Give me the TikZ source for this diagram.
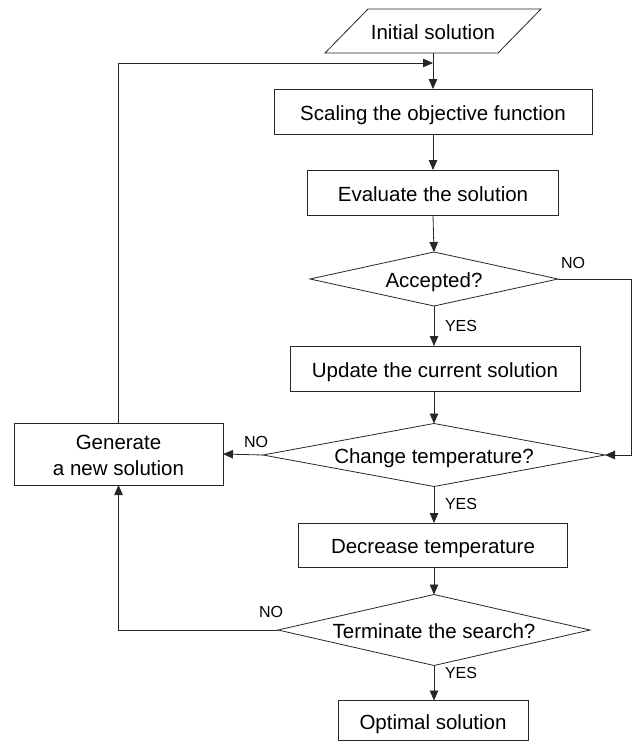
\documentclass[tikz,border=0pt]{standalone}
\usepackage{fontspec}
\setmainfont{Liberation Sans}
\usetikzlibrary{arrows.meta}
\begin{document}
\begin{tikzpicture}[x=1pt,y=-1pt,
  every node/.style={inner sep=0pt, outer sep=0pt},
  txt/.style={font=\fontsize{20.5}{25}\selectfont, align=center},
  oneline/.style={text height=19pt, text depth=2pt},
  box/.style={txt, draw=black!85, line width=0.8pt},
  outline/.style={draw=black!85, line width=0.8pt},
  lbl/.style={font=\fontsize{16}{19}\selectfont},
  conn/.style={draw=black!85, line width=0.8pt},
  arr/.style={conn, -{Triangle[length=10pt,width=8.5pt]}},
]
\useasboundingbox (0,0) rectangle (635,747);

% Initial solution (parallelogram)
\node[txt, oneline, minimum width=173pt, minimum height=44pt] (init) at (433,31) {Initial solution};
\draw[outline] ([xshift=-21.5pt]init.south west) -- ([xshift=-21.5pt]init.south east)
  -- ([xshift=21.5pt]init.north east) -- ([xshift=21.5pt]init.north west) -- cycle;

% Process boxes
\node[box, oneline, minimum width=318pt, minimum height=45pt] (scale) at (433,111.5) {Scaling the objective function};
\node[box, oneline, minimum width=251pt, minimum height=45pt] (eval) at (433,192.5) {Evaluate the solution};
\node[box, oneline, minimum width=290pt, minimum height=45pt] (upd) at (435,368.5) {Update the current solution};
\node[box, minimum width=209pt, minimum height=62pt] (gen) at (118.5,454) {\rule{0pt}{18pt}Generate\\[1pt]a new solution};
\node[box, oneline, minimum width=269pt, minimum height=44pt] (dec) at (433,545) {Decrease temperature};
\node[box, oneline, minimum width=190pt, minimum height=40pt] (opt) at (433,720.5) {Optimal solution};

% Decisions (diamonds)
\node[txt, oneline, minimum width=248pt, minimum height=54pt] (acc) at (434,279) {Accepted?};
\draw[outline] (acc.north) -- (acc.east) -- (acc.south) -- (acc.west) -- cycle;
\node[txt, oneline, minimum width=342pt, minimum height=63pt] (chg) at (434,455) {Change temperature?};
\draw[outline] (chg.north) -- (chg.east) -- (chg.south) -- (chg.west) -- cycle;
\node[txt, oneline, minimum width=312pt, minimum height=71pt] (term) at (434,630) {Terminate the search?};
\draw[outline] (term.north) -- (term.east) -- (term.south) -- (term.west) -- cycle;

% Helper coordinates
\coordinate (join) at (433,63);
\coordinate (rt) at (631,279);

% Connectors
\draw[arr] (init.south) -- (scale.north);
\draw[arr] (gen.north) |- (join);
\draw[arr] (scale.south) -- (eval.north);
\draw[arr] (eval.south) -- (acc.north);
\draw[arr] (acc.south) -- (acc.south |- upd.north);
\draw[arr] (acc.east) -- (rt) |- (chg.east);
\draw[arr] (acc.south |- upd.south) -- (chg.north);
\draw[arr] (chg.west) -- (gen.east);
\draw[arr] (chg.south) -- (chg.south |- dec.north);
\draw[arr] (chg.south |- dec.south) -- (term.north);
\draw[arr] (term.west) -| (gen.south);
\draw[arr] (term.south) -- (term.south |- opt.north);

% Labels
\node[lbl] (noA) at (573,263) {NO};
\node[lbl, anchor=west] (yesA) at (445,326) {YES};
\node[lbl] (noC) at (256,442) {NO};
\node[lbl, anchor=west] (yesC) at (445,504) {YES};
\node[lbl] (noT) at (271,612) {NO};
\node[lbl, anchor=west] (yesT) at (445,673) {YES};
\end{tikzpicture}
\end{document}
